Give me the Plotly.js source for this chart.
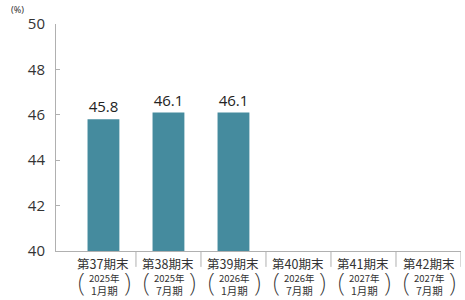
<!DOCTYPE html>
<html><head><meta charset="utf-8">
<script src="https://cdn.plot.ly/plotly-3.0.1.min.js"></script>
<style>html,body{margin:0;padding:0;background:#fff}#c{width:465px;height:300px}</style>
</head><body><div id="c"></div>
<script>
var periods = ['第37期末','第38期末','第39期末','第40期末','第41期末','第42期末'];
var years = ['2025年','2025年','2026年','2026年','2027年','2027年'];
var months = ['1月期','7月期','1月期','7月期','1月期','7月期'];
var values = [45.8, 46.1, 46.1, null, null, null];
var yTicks = [40, 42, 44, 46, 48, 50];

var idx = periods.map(function(_, i){ return i; });
var trace = {
  type: 'bar', x: idx, y: values, width: 0.49,
  marker: {color: '#458b9e'},
  text: values.map(function(v){ return v == null ? '' : v.toFixed(1); }),
  textposition: 'outside', cliponaxis: false,
  textfont: {family: 'Open Sans, sans-serif', size: 15, color: '#222'},
  hoverinfo: 'none'
};
var shapes = idx.map(function(i){
  return {type: 'line', xref: 'x', yref: 'paper', x0: i + 0.5, x1: i + 0.5, y0: 0, y1: -0.07,
    line: {color: '#b0b0b0', width: 1}};
});
var ann = [];
idx.forEach(function(i){
  ann.push({xref: 'x', yref: 'paper', x: i, y: -0.057, yanchor: 'middle', showarrow: false,
    text: periods[i], font: {family: 'Noto Sans CJK JP', size: 12.5, color: '#333'}});
  ann.push({xref: 'x', yref: 'paper', x: i, y: -0.119, yanchor: 'middle', showarrow: false, xshift: 1,
    text: years[i], font: {family: 'Noto Sans CJK JP', size: 9.5, color: '#333'}});
  ann.push({xref: 'x', yref: 'paper', x: i, y: -0.172, yanchor: 'middle', showarrow: false, xshift: 1,
    text: months[i], font: {family: 'Noto Sans CJK JP', size: 10.5, color: '#333'}});
  ann.push({xref: 'x', yref: 'paper', x: i, y: -0.135, yanchor: 'middle', showarrow: false, xshift: -22,
    text: '(', font: {family: 'Noto Sans', size: 26, weight: 200, color: '#333'}});
  ann.push({xref: 'x', yref: 'paper', x: i, y: -0.135, yanchor: 'middle', showarrow: false, xshift: 24,
    text: ')', font: {family: 'Noto Sans', size: 26, weight: 200, color: '#333'}});
});
ann.push({xref: 'paper', yref: 'paper', x: -0.115, y: 1.066, xanchor: 'left', yanchor: 'middle', showarrow: false,
  text: '(%)', font: {family: 'Noto Sans', size: 9, color: '#333'}});

var layout = {
  width: 465, height: 300,
  margin: {l: 56, r: 4, t: 24, b: 49},
  paper_bgcolor: '#fff', plot_bgcolor: '#fff',
  showlegend: false,
  xaxis: {range: [-0.73, 5.5], showticklabels: false, ticks: '', showgrid: false, zeroline: false,
    showline: true, linecolor: '#b0b0b0', linewidth: 1, fixedrange: true},
  yaxis: {range: [40, 50], tickvals: yTicks, ticktext: yTicks.map(String), showgrid: false, zeroline: false,
    showline: true, linecolor: '#b0b0b0', linewidth: 1, ticks: 'inside', ticklen: 4, tickcolor: '#b0b0b0',
    ticklabelstandoff: 7,
    tickfont: {family: 'Open Sans, sans-serif', size: 15, color: '#333'}, fixedrange: true},
  shapes: shapes, annotations: ann
};
Plotly.newPlot('c', [trace], layout, {displayModeBar: false, staticPlot: true});
</script></body></html>
